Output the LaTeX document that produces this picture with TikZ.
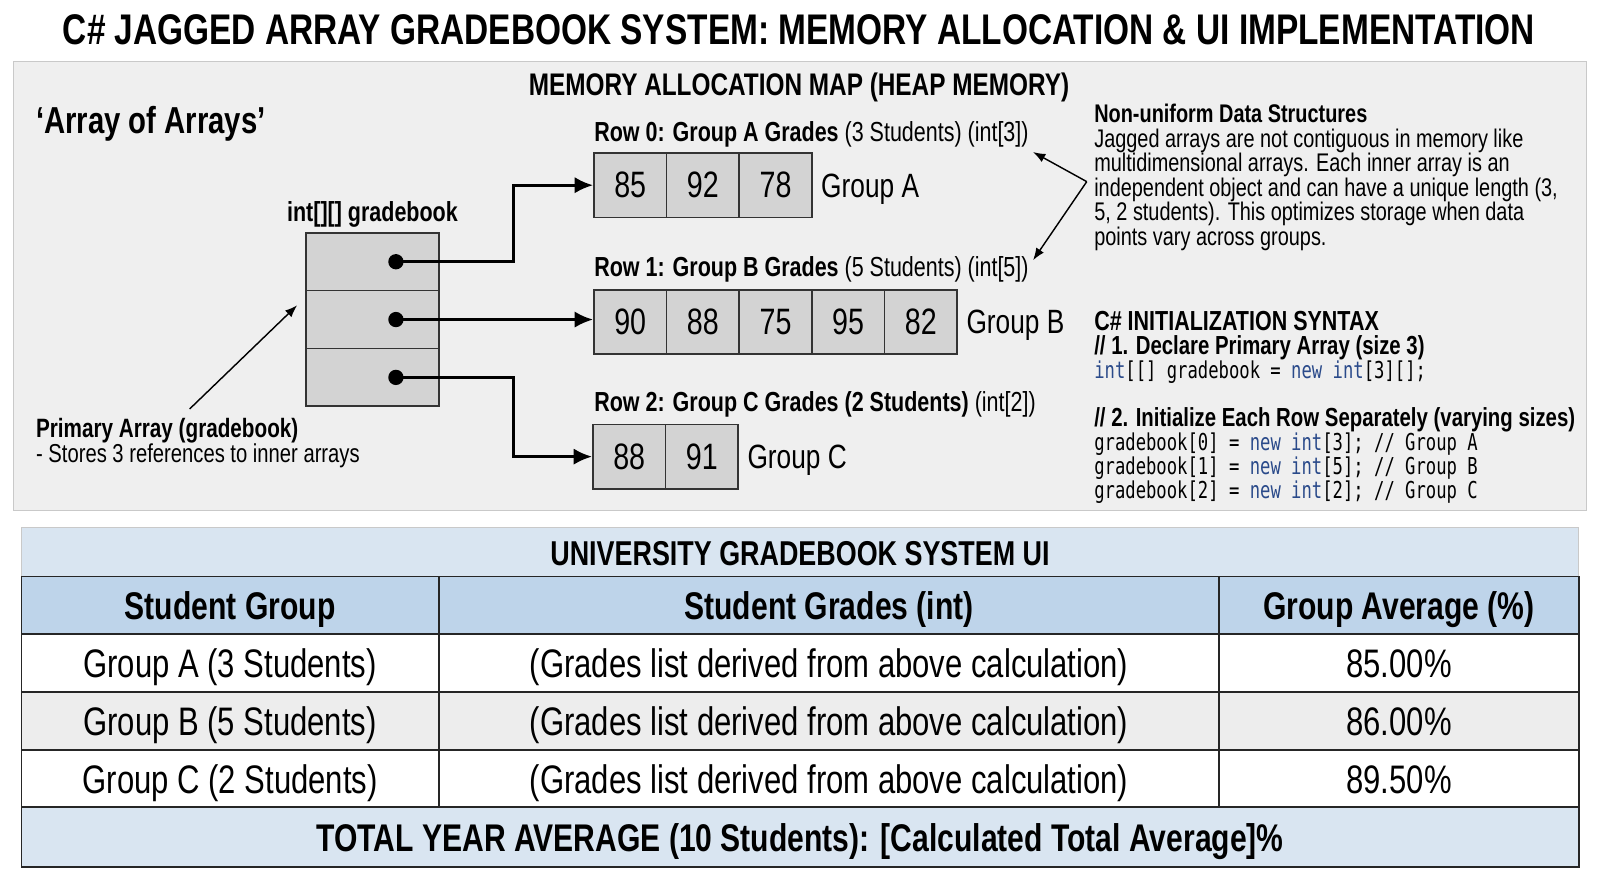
\documentclass[tikz,border=0pt]{standalone}
\usepackage{fontspec}
\setmainfont{Liberation Sans}[FakeStretch=0.78]
\setmonofont{DejaVu Sans Mono}[FakeStretch=0.74]
\usepackage{xcolor}
\usepackage{tikz}
\usetikzlibrary{arrows.meta,positioning}
\definecolor{panelgray}{HTML}{EFEFEF}
\definecolor{panelline}{HTML}{C9C9C9}
\definecolor{cellgray}{HTML}{D3D3D3}
\definecolor{codeblue}{HTML}{2A4A8A}
\definecolor{bandblue}{HTML}{D9E5F1}
\definecolor{headblue}{HTML}{BED4EA}
\definecolor{rowgray}{HTML}{EDEDED}
\newcommand{\fsz}[1]{\fontsize{#1}{#1}\selectfont}
\newcommand{\kw}[1]{\textcolor{codeblue}{#1}}
\newcommand{\gradecell}[3]{
    \node[
        draw=black!80,
        fill=cellgray,
        line width=0.8pt,
        minimum width=35.6pt,
        minimum height=31.5pt,
        inner sep=0pt,
        font=\fsz{18}
    ] (#1) at #2 {#3};
}

\begin{document}
\begin{tikzpicture}[x=0.5pt,y=-0.5pt,>=Latex,
    ptr/.style={-{Latex[length=9pt,width=8pt]},line width=1.4pt},
    note/.style={-{Latex[length=6pt,width=4.5pt]},line width=0.7pt},
    tcell/.style={draw=black!85,line width=0.9pt,inner sep=0pt,text height=14pt,text depth=0pt}]
    \useasboundingbox (0,0) rectangle (1568,856);

    \node[anchor=base, font=\bfseries\fsz{21}] (title) at (783,44) {C\# JAGGED ARRAY GRADEBOOK SYSTEM: MEMORY ALLOCATION \& UI IMPLEMENTATION};

    % heap memory panel
    \draw[draw=panelline, fill=panelgray] (13,60) rectangle (1555,500);
    \node[anchor=base, font=\bfseries\fsz{15.3}] (heapmap) at (783,94) {MEMORY ALLOCATION MAP (HEAP MEMORY)};
    \node[anchor=base west, inner sep=0pt, font=\bfseries\fsz{18.4}] (aoa) at (35,131) {‘Array of Arrays’};

    % primary array
    \foreach \i in {0,1,2}
        \node[draw=black!80, fill=cellgray, line width=0.8pt, minimum width=65pt, minimum height=28.33pt, inner sep=0pt] (p\i) at (365,{256.5+56.67*\i}) {};
    \node[above=-1pt of p0, font=\bfseries\fsz{13.5}] (gbname) {int[][] gradebook};
    \foreach \i in {0,1,2}
        \node[circle, fill=black, inner sep=0pt, minimum size=7.5pt] (d\i) at ([xshift=11.5pt]p\i.center) {};

    % inner arrays
    \foreach \v [count=\k] in {85,92,78} {
        \gradecell{a\k}{({582+35.6+71.2*(\k-1)},181.5)}{\v}
    }
    \foreach \v [count=\k] in {90,88,75,95,82} {
        \gradecell{b\k}{({582+35.6+71.2*(\k-1)},315.5)}{\v}
    }
    \foreach \v [count=\k] in {88,91} {
        \gradecell{c\k}{({581+35.6+71.2*(\k-1)},447.5)}{\v}
    }

    \node[anchor=base west, inner sep=2pt, font=\fsz{13.5}] (lab0) at (578,139) {\textbf{Row 0: Group A Grades} (3 Students) (int[3])};
    \node[anchor=base west, inner sep=2pt, font=\fsz{13.5}] (lab1) at (578,271) {\textbf{Row 1: Group B Grades} (5 Students) (int[5])};
    \node[anchor=base west, inner sep=2pt, font=\fsz{13.5}] (lab2) at (578,403) {\textbf{Row 2: Group C Grades (2 Students)} (int[2])};

    \node[right=4pt of a3, yshift=-1.8pt, inner sep=0pt, font=\fsz{16.5}] (grpA) {Group A};
    \node[right=4pt of b5, yshift=-1.8pt, inner sep=0pt, font=\fsz{16.5}] (grpB) {Group B};
    \node[right=4pt of c2, yshift=-1.8pt, inner sep=0pt, font=\fsz{16.5}] (grpC) {Group C};

    \draw[ptr] (d0.center) -- ++(115,0) |- (a1.west);
    \draw[ptr] (d1.center) -- (d1.center -| b1.west);
    \draw[ptr] (d2.center) -- ++(115,0) |- (c1.west);

    \node[anchor=base west, inner sep=0pt, font=\bfseries\fsz{13}] (prim) at (35,429) {Primary Array (gradebook)};
    \node[anchor=base west, inner sep=0pt, font=\fsz{12.7}] (primsub) at (35,453) {- Stores 3 references to inner arrays};
    \draw[note] ([xshift=11pt,yshift=4.5pt]prim.north) -- ([xshift=-4pt,yshift=7pt]p1.west);

    % side notes
    \node[anchor=north west, inner sep=0pt, align=left, font=\fontsize{12.5}{12}\selectfont] (nonuni) at (1072,102) {\textbf{Non-uniform Data Structures}\\
        Jagged arrays are not contiguous in memory like\\
        multidimensional arrays. Each inner array is an\\
        independent object and can have a unique length (3,\\
        5, 2 students). This optimizes storage when data\\
        points vary across groups.};
    \coordinate (fork) at (1065,178);
    \draw[note] (fork) -- (lab0.south east);
    \draw[note] (fork) -- ([yshift=-4pt]lab1.north east);

    \node[anchor=north west, inner sep=0pt, align=left, font=\fontsize{12.8}{11.75}\selectfont] (syntax) at (1072,305) {\textbf{\fsz{13.5}C\# INITIALIZATION SYNTAX}\\
        \textbf{// 1. Declare Primary Array (size 3)}\\
        \texttt{\fsz{11.4}\kw{int}[[] gradebook = \kw{new} \kw{int}[3][];}\\[11.75pt]
        \textbf{// 2. Initialize Each Row Separately (varying sizes)}\\
        \texttt{\fsz{11.4}gradebook[0] = \kw{new} \kw{int}[3]; // Group A}\\
        \texttt{\fsz{11.4}gradebook[1] = \kw{new} \kw{int}[5]; // Group B}\\
        \texttt{\fsz{11.4}gradebook[2] = \kw{new} \kw{int}[2]; // Group C}};

    % gradebook ui table
    \draw[draw=panelline, fill=bandblue] (21,517) rectangle (1547,565);
    \node[anchor=base, font=\bfseries\fsz{16.9}] (uititle) at (784,554) {UNIVERSITY GRADEBOOK SYSTEM UI};

    \node[tcell, fill=headblue, minimum width=204.5pt, minimum height=28pt, font=\bfseries\fsz{18.9}] (h1) at (225.5,593) {Student Group};
    \node[tcell, fill=headblue, minimum width=382.5pt, minimum height=28pt, font=\bfseries\fsz{18.9}] (h2) at (812.5,593) {Student Grades (int)};
    \node[tcell, fill=headblue, minimum width=176pt, minimum height=28pt, font=\bfseries\fsz{18.9}] (h3) at (1371,593) {Group Average (\%)};

    \foreach \gname/\gsize/\gavg/\gfill [count=\r] in {A/3/85.00/white, B/5/86.00/rowgray, C/2/89.50/white} {
        \node[tcell, fill=\gfill, minimum width=204.5pt, minimum height=28.5pt, font=\fsz{19.5}] (g\r) at (225.5,{592.5+57*\r}) {Group \gname\ (\gsize\ Students)};
        \node[tcell, fill=\gfill, minimum width=382.5pt, minimum height=28.5pt, font=\fsz{19.5}] (s\r) at (812.5,{592.5+57*\r}) {(Grades list derived from above calculation)};
        \node[tcell, fill=\gfill, minimum width=176pt, minimum height=28.5pt, font=\fsz{19.5}] (m\r) at (1371,{592.5+57*\r}) {\gavg\%};
    }

    \node[tcell, fill=bandblue, minimum width=763pt, minimum height=29.5pt, font=\bfseries\fsz{18.9}] (total) at (784,820.5) {TOTAL YEAR AVERAGE (10 Students): [Calculated Total Average]\%};
\end{tikzpicture}
\end{document}
